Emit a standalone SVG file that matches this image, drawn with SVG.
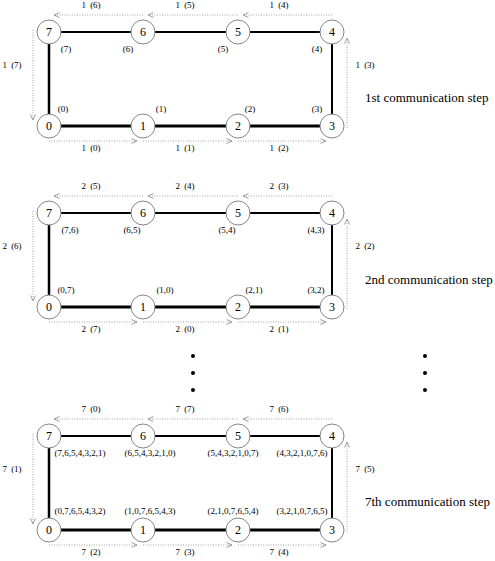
<svg xmlns="http://www.w3.org/2000/svg" width="495" height="561" viewBox="0 0 495 561">
<defs>
<marker id="ah" markerWidth="8" markerHeight="8" refX="7" refY="4" orient="auto" markerUnits="userSpaceOnUse">
<path d="M1.5,1.5 L7,4 L1.5,6.5" fill="none" stroke="#888" stroke-width="0.8"/>
</marker>
<style>
.bg{fill:#fff}
.ring{fill:#fff;stroke:#777;stroke-width:0.9}
.num{font-family:"Liberation Serif","Times New Roman",serif;font-size:12px;fill:#000;text-anchor:middle}
.lab{font-family:"Liberation Serif","Times New Roman",serif;font-size:9px;fill:#000;text-anchor:middle;word-spacing:2px}
.step{font-family:"Liberation Serif","Times New Roman",serif;font-size:13px;fill:#000}
.dot{fill:none;stroke:#999;stroke-width:0.9;stroke-dasharray:1 1.5;marker-end:url(#ah)}
.solid{stroke:#000;fill:none}
</style>
</defs>
<rect class="bg" x="0" y="0" width="495" height="561"/>

<g id="connectors">
<!-- panel 1 -->
<path class="solid" stroke-width="2" d="M49,32 H332"/>
<path class="solid" stroke-width="3" d="M49,126 H332"/>
<path class="solid" stroke-width="2.5" d="M49,32 V126"/>
<path class="solid" stroke-width="2" d="M332,32 V126"/>
<path class="dot" d="M332,15 H243"/>
<path class="dot" d="M238,15 H148"/>
<path class="dot" d="M143,15 H54"/>
<path class="dot" d="M49,141 H137"/>
<path class="dot" d="M143,141 H232"/>
<path class="dot" d="M238,141 H326"/>
<path class="dot" d="M33,30 V120"/>
<path class="dot" d="M347,128 V38"/>
<!-- panel 2 -->
<path class="solid" stroke-width="2" d="M49,213 H332"/>
<path class="solid" stroke-width="3" d="M49,307 H332"/>
<path class="solid" stroke-width="2.5" d="M49,213 V307"/>
<path class="solid" stroke-width="2" d="M332,213 V307"/>
<path class="dot" d="M332,196 H243"/>
<path class="dot" d="M238,196 H148"/>
<path class="dot" d="M143,196 H54"/>
<path class="dot" d="M49,322 H137"/>
<path class="dot" d="M143,322 H232"/>
<path class="dot" d="M238,322 H326"/>
<path class="dot" d="M33,211 V301"/>
<path class="dot" d="M347,309 V219"/>
<!-- panel 3 -->
<path class="solid" stroke-width="2" d="M49,436 H332"/>
<path class="solid" stroke-width="3" d="M49,530 H332"/>
<path class="solid" stroke-width="2.5" d="M49,436 V530"/>
<path class="solid" stroke-width="2" d="M332,436 V530"/>
<path class="dot" d="M332,419 H243"/>
<path class="dot" d="M238,419 H148"/>
<path class="dot" d="M143,419 H54"/>
<path class="dot" d="M49,545 H137"/>
<path class="dot" d="M143,545 H232"/>
<path class="dot" d="M238,545 H326"/>
<path class="dot" d="M33,434 V524"/>
<path class="dot" d="M347,532 V442"/>
</g>

<g id="edge-labels">
<text class="lab" x="91" y="8">1 (6)</text>
<text class="lab" x="185" y="8">1 (5)</text>
<text class="lab" x="279" y="8">1 (4)</text>
<text class="lab" x="12" y="68">1 (7)</text>
<text class="lab" x="365" y="68">1 (3)</text>
<text class="lab" x="91" y="151">1 (0)</text>
<text class="lab" x="185" y="151">1 (1)</text>
<text class="lab" x="279" y="151">1 (2)</text>

<text class="lab" x="91" y="189">2 (5)</text>
<text class="lab" x="185" y="189">2 (4)</text>
<text class="lab" x="279" y="189">2 (3)</text>
<text class="lab" x="12" y="249">2 (6)</text>
<text class="lab" x="365" y="249">2 (2)</text>
<text class="lab" x="91" y="332">2 (7)</text>
<text class="lab" x="185" y="332">2 (0)</text>
<text class="lab" x="279" y="332">2 (1)</text>

<text class="lab" x="91" y="412">7 (0)</text>
<text class="lab" x="185" y="412">7 (7)</text>
<text class="lab" x="279" y="412">7 (6)</text>
<text class="lab" x="12" y="472">7 (1)</text>
<text class="lab" x="365" y="472">7 (5)</text>
<text class="lab" x="91" y="555">7 (2)</text>
<text class="lab" x="185" y="555">7 (3)</text>
<text class="lab" x="279" y="555">7 (4)</text>
</g>

<!-- Panel 1 nodes -->
<g id="p1-n7"><circle class="ring" cx="49" cy="32" r="12"/><text class="num" x="49" y="36">7</text><text class="lab" x="66" y="52">(7)</text></g>
<g id="p1-n6"><circle class="ring" cx="143" cy="32" r="12"/><text class="num" x="143" y="36">6</text><text class="lab" x="128" y="52">(6)</text></g>
<g id="p1-n5"><circle class="ring" cx="238" cy="32" r="12"/><text class="num" x="238" y="36">5</text><text class="lab" x="223" y="52">(5)</text></g>
<g id="p1-n4"><circle class="ring" cx="332" cy="32" r="12"/><text class="num" x="332" y="36">4</text><text class="lab" x="317" y="52">(4)</text></g>
<g id="p1-n0"><circle class="ring" cx="49" cy="126" r="12"/><text class="num" x="49" y="130">0</text><text class="lab" x="63" y="112">(0)</text></g>
<g id="p1-n1"><circle class="ring" cx="143" cy="126" r="12"/><text class="num" x="143" y="130">1</text><text class="lab" x="161" y="112">(1)</text></g>
<g id="p1-n2"><circle class="ring" cx="238" cy="126" r="12"/><text class="num" x="238" y="130">2</text><text class="lab" x="250" y="112">(2)</text></g>
<g id="p1-n3"><circle class="ring" cx="332" cy="126" r="12"/><text class="num" x="332" y="130">3</text><text class="lab" x="317" y="112">(3)</text></g>
<text class="step" x="365" y="102">1st communication step</text>

<!-- Panel 2 nodes -->
<g id="p2-n7"><circle class="ring" cx="49" cy="213" r="12"/><text class="num" x="49" y="217">7</text><text class="lab" x="70" y="233">(7,6)</text></g>
<g id="p2-n6"><circle class="ring" cx="143" cy="213" r="12"/><text class="num" x="143" y="217">6</text><text class="lab" x="132" y="233">(6,5)</text></g>
<g id="p2-n5"><circle class="ring" cx="238" cy="213" r="12"/><text class="num" x="238" y="217">5</text><text class="lab" x="227" y="233">(5,4)</text></g>
<g id="p2-n4"><circle class="ring" cx="332" cy="213" r="12"/><text class="num" x="332" y="217">4</text><text class="lab" x="316" y="233">(4,3)</text></g>
<g id="p2-n0"><circle class="ring" cx="49" cy="307" r="12"/><text class="num" x="49" y="311">0</text><text class="lab" x="66" y="293">(0,7)</text></g>
<g id="p2-n1"><circle class="ring" cx="143" cy="307" r="12"/><text class="num" x="143" y="311">1</text><text class="lab" x="165" y="293">(1,0)</text></g>
<g id="p2-n2"><circle class="ring" cx="238" cy="307" r="12"/><text class="num" x="238" y="311">2</text><text class="lab" x="254" y="293">(2,1)</text></g>
<g id="p2-n3"><circle class="ring" cx="332" cy="307" r="12"/><text class="num" x="332" y="311">3</text><text class="lab" x="316" y="293">(3,2)</text></g>
<text class="step" x="365" y="284">2nd communication step</text>

<!-- Ellipsis dots -->
<g id="ellipsis">
<circle cx="193" cy="356" r="2" fill="#000"/>
<circle cx="193" cy="373" r="2" fill="#000"/>
<circle cx="193" cy="390" r="2" fill="#000"/>
<circle cx="425" cy="356" r="2" fill="#000"/>
<circle cx="425" cy="373" r="2" fill="#000"/>
<circle cx="425" cy="390" r="2" fill="#000"/>
</g>

<!-- Panel 3 nodes -->
<g id="p3-n7"><circle class="ring" cx="49" cy="436" r="12"/><text class="num" x="49" y="440">7</text><text class="lab" x="80" y="456">(7,6,5,4,3,2,1)</text></g>
<g id="p3-n6"><circle class="ring" cx="143" cy="436" r="12"/><text class="num" x="143" y="440">6</text><text class="lab" x="150" y="456">(6,5,4,3,2,1,0)</text></g>
<g id="p3-n5"><circle class="ring" cx="238" cy="436" r="12"/><text class="num" x="238" y="440">5</text><text class="lab" x="233" y="456">(5,4,3,2,1,0,7)</text></g>
<g id="p3-n4"><circle class="ring" cx="332" cy="436" r="12"/><text class="num" x="332" y="440">4</text><text class="lab" x="302" y="456">(4,3,2,1,0,7,6)</text></g>
<g id="p3-n0"><circle class="ring" cx="49" cy="530" r="12"/><text class="num" x="49" y="534">0</text><text class="lab" x="80" y="514">(0,7,6,5,4,3,2)</text></g>
<g id="p3-n1"><circle class="ring" cx="143" cy="530" r="12"/><text class="num" x="143" y="534">1</text><text class="lab" x="150" y="514">(1,0,7,6,5,4,3)</text></g>
<g id="p3-n2"><circle class="ring" cx="238" cy="530" r="12"/><text class="num" x="238" y="534">2</text><text class="lab" x="233" y="514">(2,1,0,7,6,5,4)</text></g>
<g id="p3-n3"><circle class="ring" cx="332" cy="530" r="12"/><text class="num" x="332" y="534">3</text><text class="lab" x="302" y="514">(3,2,1,0,7,6,5)</text></g>
<text class="step" x="365" y="506">7th communication step</text>
</svg>
